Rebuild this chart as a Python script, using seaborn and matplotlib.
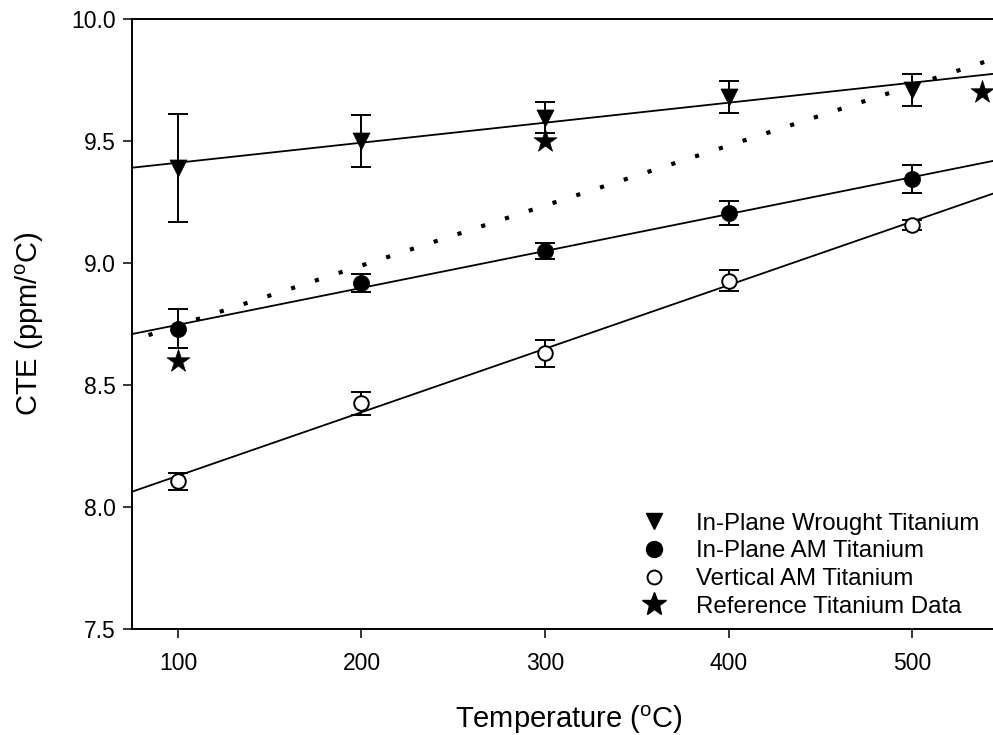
import numpy as np
import pandas as pd
import matplotlib
matplotlib.use("Agg")
import matplotlib.pyplot as plt
from matplotlib.lines import Line2D
import seaborn as sns

# ---------------- data ----------------
temps = [100, 200, 300, 400, 500]
wrought_cte = [9.39, 9.50, 9.595, 9.68, 9.71]
wrought_err = [0.22, 0.105, 0.063, 0.064, 0.065]
am_inplane_cte = [8.73, 8.918, 9.05, 9.205, 9.343]
am_inplane_err = [0.08, 0.036, 0.033, 0.05, 0.057]
am_vertical_cte = [8.105, 8.425, 8.63, 8.928, 9.156]
am_vertical_err = [0.034, 0.048, 0.056, 0.043, 0.022]
ref_temps = [100, 300, 538]
ref_cte = [8.60, 9.50, 9.70]

labels = ["In-Plane Wrought Titanium", "In-Plane AM Titanium",
          "Vertical AM Titanium", "Reference Titanium Data"]
x_ticks = [100, 200, 300, 400, 500]
y_ticks = [7.5, 8.0, 8.5, 9.0, 9.5, 10.0]

# ---------------- style ----------------
sns.set_theme(style="ticks")
plt.rcParams["font.family"] = ["Liberation Sans", "DejaVu Sans"]
plt.rcParams["mathtext.fontset"] = "custom"
plt.rcParams["mathtext.rm"] = "Liberation Sans"
plt.rcParams["mathtext.it"] = "Liberation Sans"
for key in ("text.color", "axes.labelcolor", "xtick.color", "ytick.color",
            "axes.edgecolor"):
    plt.rcParams[key] = "black"

fig = plt.figure(figsize=(9.93, 7.35), dpi=100)
ax = fig.add_axes([132 / 993, 106 / 735, 861 / 993, 610 / 735])

# dotted fit through reference data
ax.set_xlim(84, 544)
sns.regplot(x=ref_temps, y=ref_cte, ax=ax, scatter=False, ci=None, truncate=False,
            line_kws=dict(color="black", lw=3.0, linestyle=(0, (1, 5.0)),
                          dash_capstyle="butt"))

# solid fits through measured data
ax.set_xlim(75, 544)
for ys in (wrought_cte, am_inplane_cte, am_vertical_cte):
    sns.regplot(x=temps, y=ys, ax=ax, scatter=False, ci=None, truncate=False,
                line_kws=dict(color="black", lw=1.3))

# error bars
for ys, es in ((wrought_cte, wrought_err), (am_inplane_cte, am_inplane_err),
               (am_vertical_cte, am_vertical_err)):
    ax.errorbar(temps, ys, yerr=es, fmt="none", ecolor="black", elinewidth=1.4,
                capsize=7, capthick=1.4, zorder=2.5)

# markers
sns.scatterplot(x=temps, y=wrought_cte, ax=ax, marker="v", s=150, color="black",
                edgecolor="black", linewidth=0.5, zorder=3)
sns.scatterplot(x=temps, y=am_inplane_cte, ax=ax, marker="o", s=135, color="black",
                edgecolor="black", linewidth=0.5, zorder=3)
sns.scatterplot(x=temps, y=am_vertical_cte, ax=ax, marker="o", s=110, color="white",
                edgecolor="black", linewidth=1.4, zorder=3)
sns.scatterplot(x=ref_temps, y=ref_cte, ax=ax, marker="*", s=300, color="black",
                edgecolor="black", linewidth=0.5, zorder=3)

ax.set_xlim(75, 544)
ax.set_ylim(7.5, 10.0)
ax.set_xticks(x_ticks)
ax.set_xticklabels([str(t) for t in x_ticks])
ax.set_yticks(y_ticks)
ax.set_yticklabels([f"{t:.1f}" for t in y_ticks])

for side in ("left", "bottom", "top"):
    ax.spines[side].set_linewidth(1.4)
    ax.spines[side].set_color("black")
ax.spines["right"].set_visible(False)
ax.tick_params(axis="both", direction="out", length=6.5, width=1.1, colors="black",
               labelsize=16.5)
ax.tick_params(axis="x", pad=10)
ax.tick_params(axis="y", pad=5)
ax.grid(False)

ax.set_xlabel("Temperature ($^{\\mathrm{o}}$C)", fontsize=21, color="black")
ax.set_ylabel("CTE (ppm/$^{\\mathrm{o}}$C)", fontsize=21, labelpad=18, color="black")
ax.xaxis.set_label_coords(0.507, -0.123)

handles = [
    Line2D([], [], linestyle="none", marker="v", markersize=12, color="black"),
    Line2D([], [], linestyle="none", marker="o", markersize=11.5, color="black"),
    Line2D([], [], linestyle="none", marker="o", markersize=10, markerfacecolor="white",
           markeredgecolor="black", markeredgewidth=1.4),
    Line2D([], [], linestyle="none", marker="*", markersize=18, color="black"),
]
leg = ax.legend(handles, labels, loc="upper left", bbox_to_anchor=(642 / 993, 0.3026),
                bbox_transform=fig.transFigure, frameon=False, fontsize=17.3,
                handlelength=1.0, handletextpad=1.25, labelspacing=0.24,
                borderpad=0, borderaxespad=0)
for t in leg.get_texts():
    t.set_color("black")

fig.savefig("out.png", dpi=100)
